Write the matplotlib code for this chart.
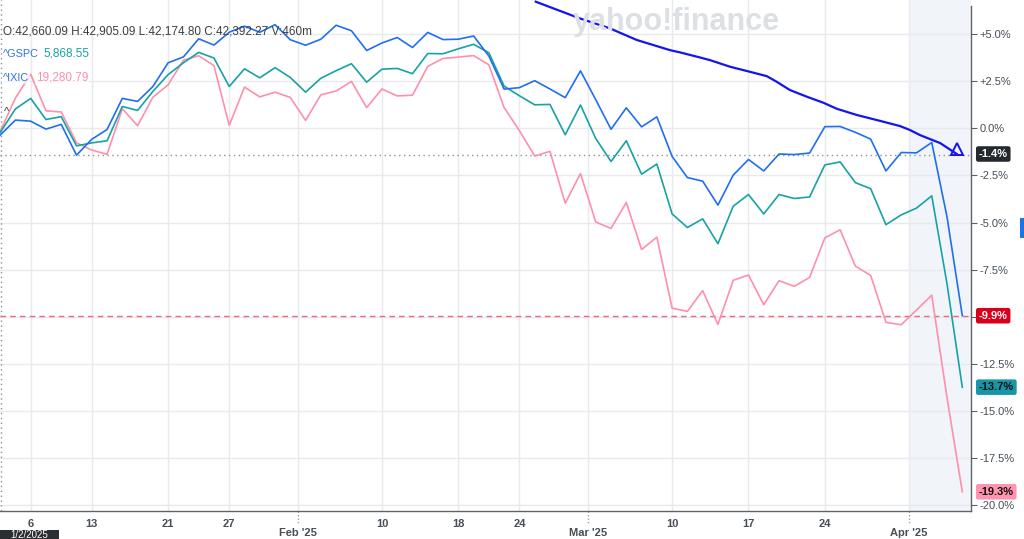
import numpy as np
import pandas as pd
import matplotlib.pyplot as plt
from matplotlib.patches import Rectangle
from matplotlib.transforms import blended_transform_factory

plt.rcParams['font.family'] = ['Liberation Sans', 'DejaVu Sans']

# trading days Jan 2 - Apr 4 2025 (closed Jan 9, Jan 20, Feb 17)
dates = pd.bdate_range('2025-01-02', '2025-04-04')
dates = dates[~dates.isin(pd.to_datetime(['2025-01-09', '2025-01-20', '2025-02-17']))]

# % change vs 2024 close
dji = [-0.36, 0.44, 0.38, -0.04, 0.21, -1.42, -0.58, -0.06, 1.59, 1.43,
       2.22, 3.48, 3.79, 4.75, 4.42, 5.10, 5.42, 5.10, 5.50, 4.70,
       4.41, 4.73, 5.47, 5.18, 4.13, 4.53, 4.82, 4.29, 5.09, 4.71,
       4.73, 4.90, 3.84, 2.08, 2.16, 2.53, 2.09, 1.63, 3.05,
       1.52, -0.05, 1.09, 0.08, 0.61, -1.49, -2.61, -2.80, -4.07, -2.48,
       -1.65, -2.26, -1.36, -1.39, -1.31, 0.09, 0.10, -0.21, -0.57, -2.26,
       -1.28, -1.30, -0.75, -4.70, -9.94]
gspc = [-0.22, 1.03, 1.59, 0.47, 0.62, -0.93, -0.77, -0.66, 1.16, 0.95,
        1.96, 2.85, 3.48, 4.03, 3.73, 2.22, 3.16, 2.68, 3.22, 2.70,
        1.92, 2.66, 3.06, 3.43, 2.45, 3.14, 3.18, 2.90, 3.97, 3.96,
        4.22, 4.46, 4.01, 2.24, 1.73, 1.25, 1.27, -0.34, 1.24,
        -0.54, -1.76, -0.66, -2.43, -1.89, -4.54, -5.26, -4.80, -6.12, -4.13,
        -3.51, -4.54, -3.51, -3.72, -3.64, -1.94, -1.78, -2.88, -3.20, -5.11,
        -4.59, -4.23, -3.58, -8.25, -13.73]
ixic = [-0.16, 1.61, 2.87, 0.93, 0.87, -0.77, -1.15, -1.38, 1.04, 0.14,
        1.65, 2.31, 3.62, 3.85, 3.33, 0.16, 2.19, 1.67, 1.92, 1.64,
        0.42, 1.78, 1.98, 2.49, 1.10, 2.09, 1.72, 1.76, 3.29, 3.71,
        3.78, 3.86, 3.37, 1.10, -0.12, -1.47, -1.22, -3.97, -2.40,
        -4.97, -5.31, -3.93, -6.43, -5.77, -9.54, -9.71, -8.61, -10.40, -8.06,
        -7.78, -9.36, -8.08, -8.38, -7.91, -5.81, -5.38, -7.31, -7.80, -10.29,
        -10.42, -9.64, -8.85, -14.29, -19.28]

# drawn indicator line (day position, %)
ind_x = [35.07, 37.97, 39.94, 41.68, 43.86, 44.52, 45.83, 46.48, 47.79, 49.10,
         50.2, 50.85, 51.72, 52.82, 53.9, 54.78, 56.09, 57.6, 58.93, 59.58,
         60.24, 60.89, 61.55, 62.64]
ind_y = [6.72, 5.83, 5.30, 4.69, 4.15, 4.03, 3.76, 3.62, 3.27, 3.00,
         2.77, 2.47, 2.03, 1.68, 1.36, 1.04, 0.71, 0.40, 0.12, -0.09,
         -0.36, -0.57, -0.78, -1.36]

day_ticks = ['2025-01-06', '2025-01-13', '2025-01-21', '2025-01-27', '2025-02-10',
             '2025-02-18', '2025-02-24', '2025-03-10', '2025-03-17', '2025-03-24']
month_labels = ["Feb '25", "Mar '25", "Apr '25"]
month_starts = ['2025-02-03', '2025-03-03', '2025-04-01']

c_dji = '#1f6ff0'
c_gspc = '#17a2a6'
c_ixic = '#ff8fab'
c_ind = '#1414f0'
txt = '#464e56'

x = np.arange(len(dates))
pos = {d: i for i, d in enumerate(dates)}

fig = plt.figure(figsize=(10.24, 5.39), dpi=100)
ax = fig.add_axes([0, 28 / 539, 971 / 1024, 511 / 539])
xmax = 63.57
ax.set_xlim(-0.01, xmax)
ax.set_ylim(-20.3, 6.81)

month_pos = [pos[pd.Timestamp(d)] - 0.5 for d in month_starts]
ax.axvspan(month_pos[-1], xmax, color='#f1f4f8', zorder=0.1, lw=0)

ax.plot(x, ixic, color=c_ixic, lw=1.2, zorder=3)
ax.plot(x, gspc, color=c_gspc, lw=1.2, zorder=3.1)
ax.plot(x, dji, color=c_dji, lw=1.2, zorder=3.2)
ax.plot(ind_x, ind_y, color=c_ind, lw=1.6, zorder=3.3, clip_on=False)
ax.plot(ind_x[-1], ind_y[-1] + 0.25, marker='^', ms=9, mfc='none', mec=c_ind, mew=1.4, zorder=3.4)

ax.axhline(ind_y[-1] - 0.07, color='#8a8f96', lw=1, ls=(0, (1, 2.5)), zorder=2)
ax.axhline(dji[-1], color='#e96a7f', lw=1, ls=(0, (4, 3)), zorder=2)
ax.axvline(0.06, color='#8a8f96', lw=1, ls=(0, (1, 2.5)), zorder=2)

# axes styling
for s in ['top', 'left']:
    ax.spines[s].set_visible(False)
for s in ['right', 'bottom']:
    ax.spines[s].set_color('#5f6368')
    ax.spines[s].set_linewidth(1)
ax.spines['right'].set_bounds(-20.3, 6.47)

yt = np.arange(-20, 5.01, 2.5)
ax.yaxis.tick_right()
ax.set_yticks(yt)
ax.set_yticklabels(['' if abs(v + 10) < 1e-9 else ('+' if v > 0 else '') + f'{v:.1f}%' for v in yt])
ax.tick_params(axis='y', length=4, color='#5f6368', labelsize=8, labelcolor=txt, pad=2)

ax.set_xticks([pos[pd.Timestamp(d)] for d in day_ticks])
ax.set_xticklabels([str(pd.Timestamp(d).day) for d in day_ticks])
ax.set_xticks(month_pos, minor=True)
ax.set_xticklabels(month_labels, minor=True)
ax.tick_params(axis='x', which='major', length=0, labelsize=8, labelcolor=txt, pad=6)
ax.tick_params(axis='x', which='minor', length=0, labelsize=8, labelcolor=txt, pad=12.5)
for lab in ax.get_xticklabels(which='both'):
    lab.set_fontweight('bold')

ax.set_axisbelow(True)
ax.grid(axis='y', color='#e8eaed', lw=1)
ax.grid(axis='x', which='both', color='#e8eaed', lw=1)
for m in month_pos:
    ax.plot([m, m], [-20.3, -21.0], color='#9aa0a6', lw=1, ls=(0, (1, 1.5)), clip_on=False)

# end-value labels on the right axis
tr = blended_transform_factory(ax.transAxes, ax.transData)
end_labels = [(ind_y[-1], '#24292e', 'white'), (dji[-1], '#d9001b', 'white'),
              (gspc[-1], '#1696a6', '#111111'), (ixic[-1], '#ff94b0', '#111111')]
for v, bg, fg in end_labels:
    ax.text(1.008, v, f'{v:.1f}%', transform=tr, ha='left', va='center', fontsize=8,
            color=fg, fontweight='bold', zorder=5, clip_on=False,
            bbox=dict(boxstyle='round,pad=0.25,rounding_size=0.2', fc=bg, ec='none'))

# header / legend texts
def ft(px, py, s, **kw):
    fig.text(px / 1024, 1 - py / 539, s, va='center', **kw)

ft(3, 31, 'O:42,660.09 H:42,905.09 L:42,174.80 C:42,392.27 V:460m', fontsize=8.5, color='#3b3f44')
ft(3, 54, '^GSPC', fontsize=7.8, color='#2b74e6')
ft(43, 54, '5,868.55', fontsize=8.5, color=c_gspc)
ft(3, 78, '^IXIC', fontsize=7.8, color='#2b74e6',
   bbox=dict(fc='white', ec='none', alpha=0.6, pad=0.5))
ft(36, 78, '19,280.79', fontsize=8.5, color=c_ixic,
   bbox=dict(fc='white', ec='none', alpha=0.6, pad=0.5))
ft(4, 112, '^', fontsize=8, color='#3b3f44')
fig.text(676 / 1024, 1 - 22 / 539, 'yahoo!finance', ha='center', va='center',
         fontsize=22, fontweight='bold', color='#dcdfe4', zorder=0.5)

fig.patches.append(Rectangle((0, 0), 59 / 1024, 9 / 539, transform=fig.transFigure,
                             fc='#2b2f33', ec='none'))
fig.text(29 / 1024, 4 / 539, '1/2/2025', ha='center', va='center', fontsize=7, color='white')
fig.patches.append(Rectangle((1020 / 1024, 1 - 238 / 539), 4 / 1024, 20 / 539,
                             transform=fig.transFigure, fc='#1a73e8', ec='none'))

fig.savefig('out.png', dpi=100)
